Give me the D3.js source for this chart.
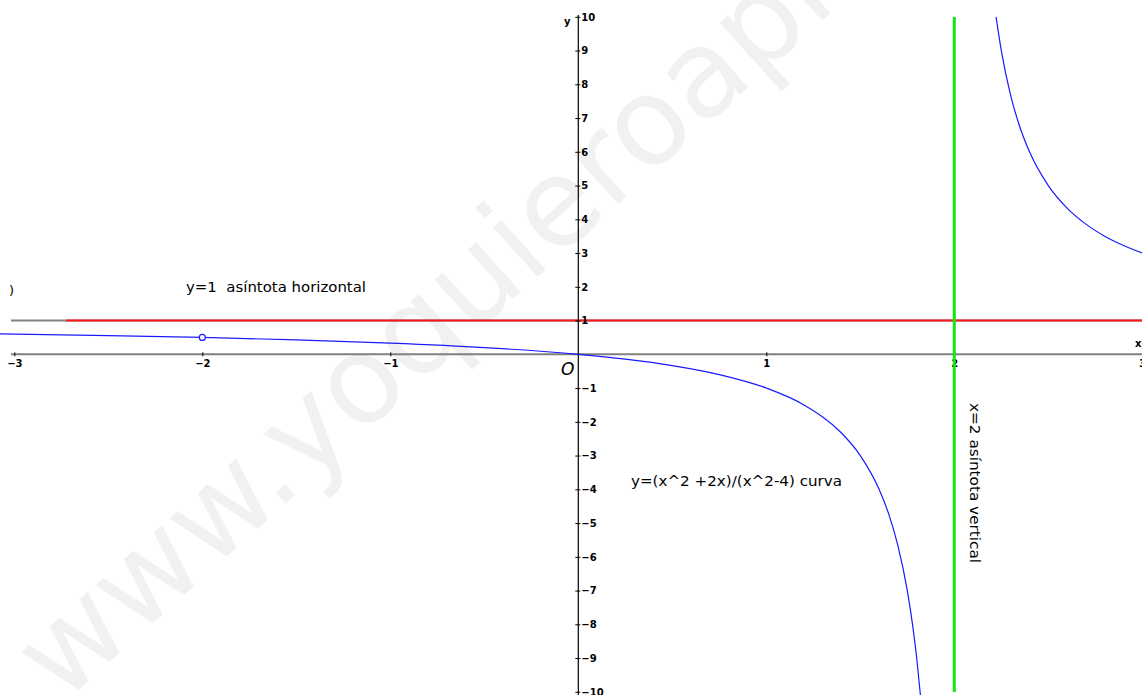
<!DOCTYPE html>
<html>
<head>
<meta charset="utf-8">
<script src="https://cdn.jsdelivr.net/npm/d3@7"></script>
<style>
  html, body { margin: 0; padding: 0; background: #fff; }
  svg { display: block; }
</style>
</head>
<body>
<svg id="chart" width="1142" height="695"></svg>
<script>
// ---- data ----
const xTicks = [-3, -2, -1, 1, 2, 3];
const yTicks = [-10, -9, -8, -7, -6, -5, -4, -3, -2, -1, 1, 2, 3, 4, 5, 6, 7, 8, 9, 10];
// left branch of the curve
const leftX = [-3.09, -3.0, -2.5, -2.0, -1.5, -1.0, -0.5, 0.0, 0.25, 0.5, 0.75, 1.0, 1.2, 1.4, 1.5, 1.6, 1.65, 1.7, 1.75, 1.78, 1.8, 1.82];
const leftY = [0.607, 0.6, 0.556, 0.5, 0.429, 0.333, 0.2, 0.0, -0.143, -0.333, -0.6, -1.0, -1.5, -2.333, -3.0, -4.0, -4.714, -5.667, -7.0, -8.09, -9.0, -10.11];
// right branch of the curve
const rightX = [2.222, 2.25, 2.3, 2.35, 2.4, 2.5, 2.6, 2.7, 2.8, 2.9, 3.0, 3.01];
const rightY = [10.0, 9.0, 7.667, 6.714, 6.0, 5.0, 4.333, 3.857, 3.5, 3.222, 3.0, 2.98];
const holePoint = [-2, 0.5];
const hAsymptote = 1;
const vAsymptote = 2;

const svg = d3.select("#chart");
const W = 1142, H = 695;

const x = d3.scaleLinear().domain([-3, 3]).range([14.3, 1142.3]);
const y = d3.scaleLinear().domain([-10, 10]).range([691.8, 16.8]);

// watermark
svg.append("text")
  .attr("transform", "translate(62,705) rotate(-42)")
  .attr("font-family", "DejaVu Sans, sans-serif")
  .attr("font-size", 122)
  .attr("fill", "#f1f1f1")
  .text("www.yoquieroaprobar.es");

// x axis line (gray)
svg.append("line")
  .attr("x1", 11).attr("x2", W)
  .attr("y1", y(0)).attr("y2", y(0))
  .attr("stroke", "#808080").attr("stroke-width", 2);

// horizontal asymptote: gray start then red
svg.append("line")
  .attr("x1", 11).attr("x2", W)
  .attr("y1", y(hAsymptote)).attr("y2", y(hAsymptote))
  .attr("stroke", "#808080").attr("stroke-width", 2);
svg.append("line")
  .attr("x1", 66).attr("x2", W)
  .attr("y1", y(hAsymptote)).attr("y2", y(hAsymptote))
  .attr("stroke", "#ff1a1a").attr("stroke-width", 2);

// x axis ticks + labels
const xAxis = d3.axisBottom(x)
  .tickValues(xTicks)
  .tickSize(4)
  .tickFormat(d => d < 0 ? "\u2212" + Math.abs(d) : String(d));
const gx = svg.append("g").attr("transform", `translate(0,${y(0) - 2})`).call(xAxis);
gx.select(".domain").remove();
gx.selectAll(".tick line").attr("stroke", "#000").attr("stroke-width", 1);
gx.selectAll(".tick text")
  .attr("y", 8)
  .attr("font-family", "DejaVu Sans, sans-serif")
  .attr("font-weight", "bold")
  .attr("font-size", 10)
  .attr("fill", "#000");

// y axis
const yAxis = d3.axisRight(y)
  .tickValues(yTicks)
  .tickSize(3)
  .tickFormat(d => d < 0 ? "\u2212" + Math.abs(d) : String(d));
const gy = svg.append("g").attr("transform", `translate(${x(0) - 3},0)`).call(yAxis);
gy.select(".domain").remove();
gy.selectAll(".tick line").attr("stroke", "#000").attr("stroke-width", 1).attr("x2", 5);
gy.selectAll(".tick text")
  .attr("x", 6)
  .attr("font-family", "DejaVu Sans, sans-serif")
  .attr("font-weight", "bold")
  .attr("font-size", 10)
  .attr("fill", "#000");
svg.append("line")
  .attr("x1", x(0)).attr("x2", x(0))
  .attr("y1", 15).attr("y2", H)
  .attr("stroke", "#000").attr("stroke-width", 1.2);

// axis names
svg.append("text").attr("x", 564).attr("y", 25)
  .attr("font-family", "DejaVu Sans, sans-serif").attr("font-weight", "bold")
  .attr("font-size", 10).text("y");
svg.append("text").attr("x", 1135).attr("y", 347)
  .attr("font-family", "DejaVu Sans, sans-serif").attr("font-weight", "bold")
  .attr("font-size", 10).text("x");

// vertical asymptote (green)
svg.append("line")
  .attr("x1", x(vAsymptote)).attr("x2", x(vAsymptote))
  .attr("y1", 17).attr("y2", 692)
  .attr("stroke", "#14e614").attr("stroke-width", 3);

// curve
const line = d3.line().x(d => x(d[0])).y(d => y(d[1])).curve(d3.curveMonotoneX);
const leftData = leftX.map((v, i) => [v, leftY[i]]);
const rightData = rightX.map((v, i) => [v, rightY[i]]);
[leftData, rightData].forEach(dat => {
  svg.append("path").datum(dat)
    .attr("d", line)
    .attr("fill", "none")
    .attr("stroke", "#1a1aff")
    .attr("stroke-width", 1.2);
});

// hole
svg.append("circle")
  .attr("cx", x(holePoint[0])).attr("cy", y(holePoint[1]))
  .attr("r", 3)
  .attr("fill", "#fff").attr("stroke", "#1a1aff").attr("stroke-width", 1.2);

// annotations
const annFont = "Comic Sans MS, DejaVu Sans, sans-serif";
svg.append("text").attr("x", 186).attr("y", 292)
  .attr("font-family", annFont).attr("font-size", 14)
  .attr("textLength", 180).attr("lengthAdjust", "spacingAndGlyphs")
  .attr("xml:space", "preserve")
  .text("y=1  asíntota horizontal");
svg.append("text").attr("x", 631).attr("y", 486)
  .attr("font-family", annFont).attr("font-size", 14)
  .attr("textLength", 211).attr("lengthAdjust", "spacingAndGlyphs")
  .text("y=(x^2 +2x)/(x^2-4) curva");
svg.append("text")
  .attr("transform", "translate(970,403) rotate(90)")
  .attr("font-family", annFont).attr("font-size", 14)
  .attr("textLength", 160).attr("lengthAdjust", "spacingAndGlyphs")
  .text("x=2 asíntota vertical");
svg.append("text").attr("x", 561).attr("y", 375)
  .attr("font-family", "DejaVu Sans, sans-serif").attr("font-style", "italic")
  .attr("font-size", 17).text("O");
svg.append("text").attr("x", 9).attr("y", 295)
  .attr("font-family", annFont).attr("font-size", 13).text(")");
</script>
</body>
</html>
